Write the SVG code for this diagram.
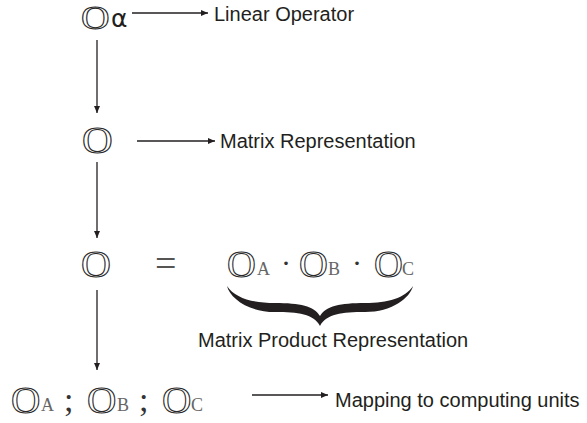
<svg xmlns="http://www.w3.org/2000/svg" width="587" height="423" viewBox="0 0 587 423">
<style>
.lbl{font-family:"Liberation Sans",Arial,sans-serif;font-size:20px;fill:#231f20}
.big{font-family:"Liberation Serif","Times New Roman",serif;font-size:37px;fill:#fff;stroke:#2a2a2a;stroke-width:1}
.sub{font-family:"Liberation Serif","Times New Roman",serif;font-size:18px;fill:#666}
.sym{font-family:"Liberation Serif","Times New Roman",serif;fill:#333}
.ln{stroke:#231f20;stroke-width:1.3;fill:none}
</style>
<defs>
<marker id="ah" markerUnits="userSpaceOnUse" markerWidth="8" markerHeight="7" refX="7" refY="3" orient="auto">
<path d="M0,0 L7,3 L0,6 z" fill="#231f20"/>
</marker>
</defs>
<rect width="587" height="423" fill="#fff"/>
<g id="connectors">
<line class="ln" x1="132" y1="13" x2="208" y2="13" marker-end="url(#ah)"/>
<line class="ln" x1="137" y1="141" x2="215" y2="141" marker-end="url(#ah)"/>
<line class="ln" x1="252" y1="395" x2="328" y2="395" marker-end="url(#ah)"/>
<line class="ln" x1="97" y1="40" x2="97" y2="113" marker-end="url(#ah)"/>
<line class="ln" x1="97" y1="162" x2="97" y2="238" marker-end="url(#ah)"/>
<line class="ln" x1="97" y1="290" x2="97" y2="370" marker-end="url(#ah)"/>
</g>
<g id="node-linear-operator">
<text class="big" transform="translate(81 29) scale(1.2 1)" style="font-size:33px">O</text>
<text x="111" y="27" style="font-family:'DejaVu Sans',sans-serif;font-size:25px;fill:#231f20">α</text>
<text class="lbl" x="214" y="21">Linear Operator</text>
</g>
<g id="node-matrix">
<text class="big" transform="translate(82 153) scale(1.15 1)">O</text>
<text class="lbl" x="220" y="148">Matrix Representation</text>
</g>
<g id="node-product">
<text class="big" transform="translate(81 277) scale(1.12 1)">O</text>
<text class="sym" x="155" y="276" style="font-size:38px;fill:#555">=</text>
<text class="big" transform="translate(227 277) scale(1.08 1)">O</text>
<text class="sub" x="257" y="275">A</text>
<text class="sym" x="281" y="273" style="font-size:30px">·</text>
<text class="big" transform="translate(299 277) scale(1.08 1)">O</text>
<text class="sub" x="328" y="275">B</text>
<text class="sym" x="352" y="273" style="font-size:30px">·</text>
<text class="big" transform="translate(374 277) scale(1.08 1)">O</text>
<text class="sub" x="402" y="275">C</text>
<path d="M227,286 C230,298 248,312 275,312 C298,312 314,314 320,326 C326,314 342,312 365,312 C392,312 410,298 413,286 C405,298 388,303 365,303 C340,303 326,306 320,316 C314,306 300,303 275,303 C252,303 235,298 227,286 Z" fill="#231f20"/>
<text class="lbl" x="198" y="347">Matrix Product Representation</text>
</g>
<g id="node-mapping">
<text class="big" transform="translate(11 413) scale(1.1 1)">O</text>
<text class="sub" x="41" y="411">A</text>
<text class="sym" x="64" y="411" style="font-size:34px">;</text>
<text class="big" transform="translate(87 413) scale(1.1 1)">O</text>
<text class="sub" x="117" y="411">B</text>
<text class="sym" x="139" y="411" style="font-size:34px">;</text>
<text class="big" transform="translate(162 413) scale(1.1 1)">O</text>
<text class="sub" x="191" y="411">C</text>
<text class="lbl" x="335" y="407">Mapping to computing units</text>
</g>
</svg>
